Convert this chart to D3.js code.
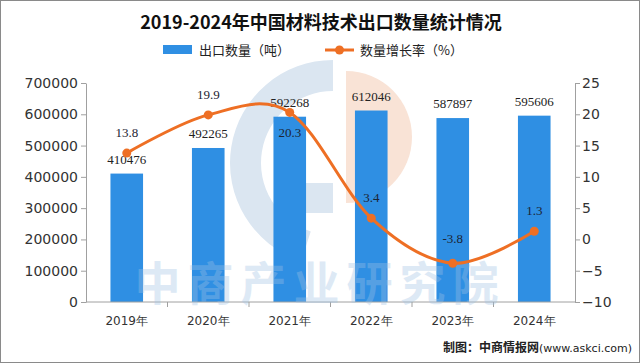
<!DOCTYPE html>
<html>
<head>
<meta charset="utf-8">
<script src="https://cdn.jsdelivr.net/npm/d3@7"></script>
<style>
  body { margin: 0; background: #fff; }
  svg { display: block; }
</style>
</head>
<body>
<svg id="chart" width="640" height="363"></svg>
<script>
// data
var years = ["2019年", "2020年", "2021年", "2022年", "2023年", "2024年"];
var exports = [410476, 492265, 592268, 612046, 587897, 595606];
var growth = [13.8, 19.9, 20.3, 3.4, -3.8, 1.3];
var leftTicks = [0, 100000, 200000, 300000, 400000, 500000, 600000, 700000];
var rightTicks = [-10, -5, 0, 5, 10, 15, 20, 25];
// where each growth label sits: above (-1) or below (+1) its point
var growthLabelSide = [-1, -1, 1, -1, -1, -1];

var svg = d3.select("#chart"),
  width = +svg.attr("width"),
  height = +svg.attr("height"),
  margin = {top: 83, left: 86, bottom: 61, right: 65};

var blue = "#2f8fe3", orange = "#ee6f24";
var sans = "'DejaVu Sans', Verdana, sans-serif";
var cjk = "'Noto Sans CJK SC', sans-serif";
var serif = "'Liberation Serif', serif";

svg.append("rect")
  .attr("x", 0.5).attr("y", 0.5)
  .attr("width", width - 1).attr("height", height - 1)
  .attr("fill", "#fff").attr("stroke", "#8a8a8a");

// watermark logo behind the plot
var logo = svg.append("g").attr("class", "logo");
logo.append("path")
  .attr("transform", "translate(333,163)")
  .attr("d", d3.arc().innerRadius(72).outerRadius(103).startAngle(Math.PI * 1.1).endAngle(Math.PI * 2))
  .attr("fill", "#dbe6f1");
logo.append("rect")
  .attr("x", 298).attr("y", 183).attr("width", 35).attr("height", 30)
  .attr("fill", "#dbe6f1");
logo.append("path")
  .attr("transform", "translate(346,137)")
  .attr("d", d3.arc().innerRadius(0).outerRadius(66).startAngle(0).endAngle(Math.PI))
  .attr("fill", "#f9e3d6");

var x = d3.scaleBand()
  .domain(years)
  .range([margin.left, width - margin.right])
  .paddingInner(0.6)
  .paddingOuter(0.3);

var band = d3.scaleBand().domain(years).range([margin.left, width - margin.right]);

var y = d3.scaleLinear()
  .domain([0, 700000])
  .range([height - margin.bottom, margin.top]);

var y2 = d3.scaleLinear()
  .domain([-10, 25])
  .range([height - margin.bottom, margin.top]);

// bars
svg.append("g").selectAll("rect")
  .data(exports)
  .enter().append("rect")
  .attr("x", (d, i) => x(years[i]))
  .attr("y", d => y(d))
  .attr("width", x.bandwidth())
  .attr("height", d => y(0) - y(d))
  .attr("fill", blue);

svg.append("g").selectAll("text")
  .data(exports)
  .enter().append("text")
  .attr("x", (d, i) => x(years[i]) + x.bandwidth() / 2)
  .attr("y", d => y(d) - 10)
  .attr("text-anchor", "middle")
  .style("font-family", serif)
  .style("font-size", "13px")
  .attr("fill", "#222")
  .text(d => d);

// left axis
var leftAxis = svg.append("g")
  .attr("transform", "translate(" + margin.left + ",0)")
  .call(d3.axisLeft(y).tickValues(leftTicks).tickSize(5).tickPadding(3).tickSizeOuter(0)
    .tickFormat(d3.format("d")));
leftAxis.selectAll("text").style("font-family", sans).style("font-size", "14px").attr("fill", "#333");

// right axis
var rightAxis = svg.append("g")
  .attr("transform", "translate(" + (width - margin.right) + ",0)")
  .call(d3.axisRight(y2).tickValues(rightTicks).tickSize(5).tickPadding(2).tickSizeOuter(0)
    .tickFormat(d => d < 0 ? "\u2212" + Math.abs(d) : d));
rightAxis.selectAll("text").style("font-family", sans).style("font-size", "14px").attr("fill", "#333");

// bottom axis with ticks on band edges
var bottom = svg.append("g").attr("transform", "translate(0," + y(0) + ")");
bottom.append("line")
  .attr("x1", margin.left).attr("x2", width - margin.right)
  .attr("stroke", "#a0a0a0");
bottom.selectAll(".edge")
  .data(years.slice(1))
  .enter().append("line")
  .attr("x1", d => band(d)).attr("x2", d => band(d))
  .attr("y1", 0).attr("y2", 5)
  .attr("stroke", "#a0a0a0");
bottom.selectAll("text")
  .data(years)
  .enter().append("text")
  .attr("x", d => band(d) + band.bandwidth() / 2)
  .attr("y", 23)
  .attr("text-anchor", "middle")
  .style("font-family", sans)
  .style("font-size", "12px")
  .attr("fill", "#333")
  .text(d => d);

svg.selectAll(".domain, .tick line").attr("stroke", "#a0a0a0");

// watermark text
svg.append("text")
  .attr("x", 320).attr("y", 300)
  .attr("text-anchor", "middle")
  .style("font-family", cjk)
  .style("font-size", "46px")
  .style("font-weight", "bold")
  .style("letter-spacing", "7px")
  .attr("fill", "#9fc2e4")
  .attr("opacity", 0.35)
  .text("中商产业研究院");

// growth line
var line = d3.line()
  .x((d, i) => band(years[i]) + band.bandwidth() / 2)
  .y(d => y2(d))
  .curve(d3.curveCardinal);

svg.append("path")
  .datum(growth)
  .attr("d", line)
  .attr("fill", "none")
  .attr("stroke", orange)
  .attr("stroke-width", 3);

svg.append("g").selectAll("circle")
  .data(growth)
  .enter().append("circle")
  .attr("cx", (d, i) => band(years[i]) + band.bandwidth() / 2)
  .attr("cy", d => y2(d))
  .attr("r", 4.5)
  .attr("fill", orange);

svg.append("g").selectAll("text")
  .data(growth)
  .enter().append("text")
  .attr("x", (d, i) => band(years[i]) + band.bandwidth() / 2)
  .attr("y", (d, i) => y2(d) + (growthLabelSide[i] > 0 ? 25 : (d < 0 ? -20 : -16)))
  .attr("text-anchor", "middle")
  .style("font-family", serif)
  .style("font-size", "13px")
  .attr("fill", "#1c2433")
  .text(d => d < 0 ? "-" + Math.abs(d) : d);

// title
svg.append("text")
  .attr("x", 321).attr("y", 29)
  .attr("text-anchor", "middle")
  .style("font-family", cjk)
  .style("font-size", "18px")
  .style("font-weight", "bold")
  .attr("fill", "#111")
  .text("2019-2024年中国材料技术出口数量统计情况");

// legend
var legend = svg.append("g");
legend.append("rect")
  .attr("x", 163).attr("y", 45).attr("width", 29).attr("height", 9)
  .attr("fill", blue);
legend.append("text")
  .attr("x", 199).attr("y", 55)
  .style("font-family", cjk).style("font-size", "13px").attr("fill", "#222")
  .text("出口数量（吨）");
legend.append("line")
  .attr("x1", 325).attr("x2", 354).attr("y1", 50).attr("y2", 50)
  .attr("stroke", orange).attr("stroke-width", 3);
legend.append("circle")
  .attr("cx", 339.5).attr("cy", 50).attr("r", 4.5).attr("fill", orange);
legend.append("text")
  .attr("x", 360).attr("y", 55)
  .style("font-family", cjk).style("font-size", "13px").attr("fill", "#222")
  .text("数量增长率（%）");

// source note
var note = svg.append("text")
  .attr("x", width - 8).attr("y", 352)
  .attr("text-anchor", "end")
  .style("font-family", cjk)
  .style("font-size", "12px")
  .attr("fill", "#222");
note.append("tspan").style("font-weight", "bold").text("制图：中商情报网");
note.append("tspan").style("font-family", sans).style("font-size", "11px").text("(www.askci.com)");
</script>
</body>
</html>
